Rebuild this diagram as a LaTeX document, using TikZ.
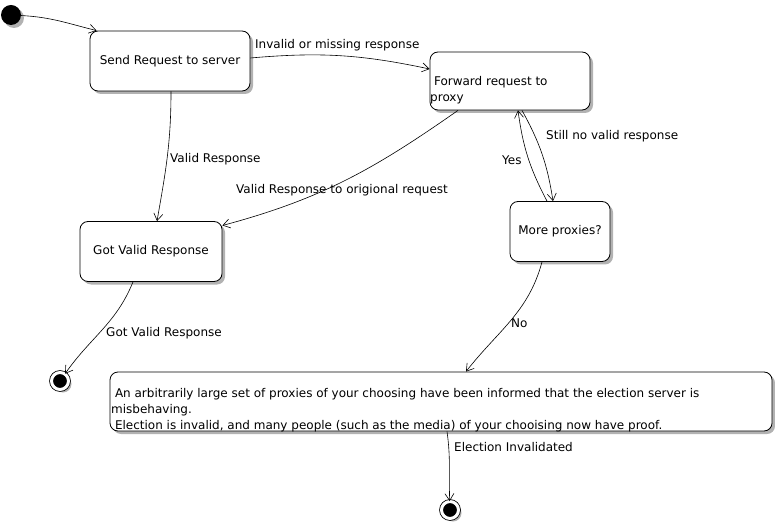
\documentclass[tikz,border=0pt]{standalone}
\usepackage{fontspec}
\setmainfont{DejaVu Sans}
\usetikzlibrary{arrows.meta,calc,shadows}

\begin{document}
\begin{tikzpicture}[
    x=1pt, y=-1pt,
    font=\fontsize{12}{16}\selectfont,
    >={Straight Barb[length=7pt,width=9pt]},
    trans/.style={->, line width=0.6pt},
    shade3/.style={drop shadow={shadow xshift=3pt, shadow yshift=-3pt,
        fill=black!30, opacity=1}},
    state/.style={draw, rounded corners=8pt, fill=white, line width=0.8pt,
        inner sep=0pt, shade3},
    initstate/.style={circle, fill=black, minimum size=20pt, inner sep=0pt, shade3},
    finalstate/.style={circle, fill=black, draw=black, line width=0.8pt,
        double=white, double distance=3pt, minimum size=17pt, inner sep=0pt, shade3},
    lbl/.style={anchor=west, inner sep=0pt},
  ]
  \useasboundingbox (0,0) rectangle (775,526);

  % States
  \node[initstate] (init) at (11,15) {};
  \node[state, minimum width=160pt, minimum height=60pt] (send) at (170,61)
    {Send Request to server};
  \node[state, minimum width=160pt, minimum height=58pt] (fwd) at (510,81) {};
  \node[anchor=base west, align=left, inner sep=0pt] (fwdtext) at (430,102)
    {~Forward request to\\proxy};
  \node[state, minimum width=100pt, minimum height=60pt] (more) at (560,231.5)
    {More proxies?};
  \node[state, minimum width=142pt, minimum height=60pt] (got) at (151,251.5)
    {Got Valid Response};
  \node[state, minimum width=662pt, minimum height=59pt] (big) at (441,401.5) {};
  \node[anchor=base west, align=left, inner sep=0pt] (bigtext) at (111,429)
    {~An arbitrarily large set of proxies of your choosing have been informed that the election server is\\
     misbehaving.\\
     ~Election is invalid, and many people (such as the media) of your chooising now have proof.};
  \node[finalstate] (end1) at (60,381) {};
  \node[finalstate] (end2) at (450,510) {};

  % Transitions
  \draw[trans] (init) to[out=-3,in=166] ($(send.north west)+(7,0)$);
  \draw[trans] ($(send.east)+(0,-3)$) to[out=5,in=168] ($(fwd.west)+(0,-12)$);
  \draw[trans] ($(send.south)+(1,0)$) to[out=-90,in=80] ($(got.north)+(6,0)$);
  \draw[trans] ($(fwd.south)+(-52,0)$) to[out=215,in=15] ($(got.east)+(0,-26)$);
  \draw[trans] ($(more.north)+(-13,0)$) to[bend left=10] ($(fwd.south)+(8,0)$);
  \draw[trans] ($(fwd.south)+(12,0)$) to[bend left=10] ($(more.north)+(-7,0)$);
  \draw[trans] ($(more.south)+(-18,0)$) to[out=-105,in=52] ($(big.north)+(25,0)$);
  \draw[trans] ($(got.south)+(-18,0)$) to[out=-112,in=55] (end1);
  \draw[trans] ($(big.south)+(6,0)$) to[out=-82,in=92] (end2);

  % Labels
  \node[lbl] (lblinvalid) at (255,45) {Invalid or missing response};
  \node[lbl] (lblvalid) at (170,159) {Valid Response};
  \node[lbl] (lblorig) at (236,190) {Valid Response to origional request};
  \node[lbl] (lblstill) at (546,136) {Still no valid response};
  \node[lbl] (lblyes) at (502,160) {Yes};
  \node[lbl] (lblno) at (511,323) {No};
  \node[lbl] (lblgot) at (106,333) {Got Valid Response};
  \node[lbl] (lblelect) at (454,447) {Election Invalidated};
\end{tikzpicture}
\end{document}
